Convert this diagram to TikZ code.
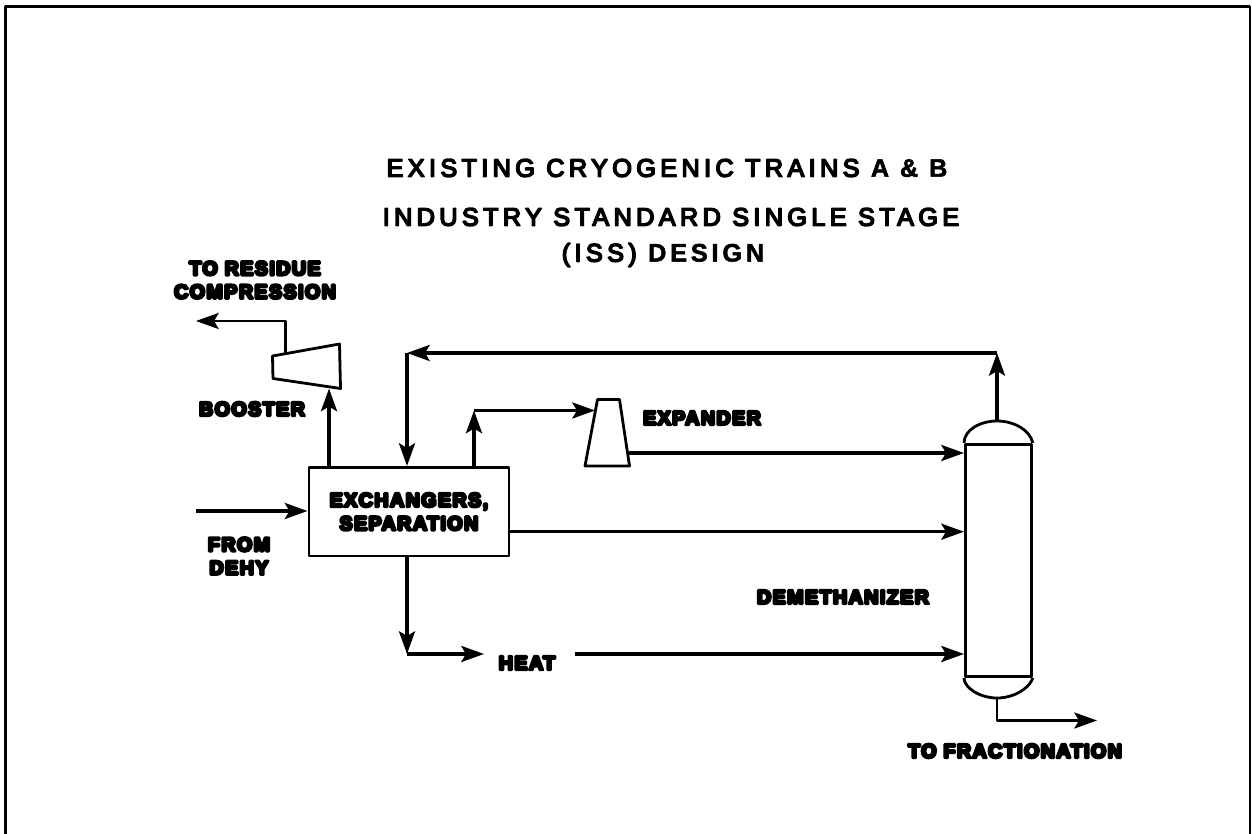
\documentclass[tikz,border=0pt]{standalone}
\usepackage{fontspec}
\setmainfont{Liberation Sans}
\newfontfamily\heavyfont[FakeBold=14,LetterSpace=7]{Liberation Sans Bold}
\newfontfamily\titlefont[FakeBold=6,LetterSpace=17]{Liberation Sans}
\newfontfamily\titleheavy[FakeBold=2,LetterSpace=15]{Liberation Sans Bold}
\usetikzlibrary{arrows.meta,calc,positioning}

\begin{document}
\begin{tikzpicture}[x=0.75pt, y=-0.75pt, line join=round,
  unit/.style={draw, line width=2.1pt, inner sep=0pt, align=center},
  pipe/.style={line width=2.6pt},
  thinpipe/.style={line width=2.2pt},
  flow/.style={-{Stealth[length=17pt, width=12pt, inset=3.5pt]}},
  tag/.style={font=\fontsize{14.8}{17.5}\selectfont\heavyfont, align=center, inner sep=0pt},
  heading/.style={font=\fontsize{19}{20}\selectfont\titlefont, inner sep=0pt}]

\useasboundingbox (0,0) rectangle (1252,834);

% Frame
\draw[line width=2.4pt] (5.5,834) -- (5.5,6.5) -- (1250,6.5);
\draw[line width=1.2pt] (1250,6.5) -- (1250,834);

% Title
\node[heading] (title1) at (667,168) {EXISTING CRYOGENIC TRAINS {\titleheavy A \& B}};
\node[heading] (title2) at (671,217) {INDUSTRY STANDARD SINGLE STAGE};
\node[heading] (title3) at (663,255) {(ISS) {\titleheavy DESIGN}};

% Equipment
\node[unit, minimum width=200pt*0.75, minimum height=88.6pt*0.75, anchor=north west, tag] (exch) at (307.5,466) {EXCHANGERS,\\SEPARATION};
\node[unit, minimum width=66pt*0.75, minimum height=232pt*0.75, anchor=north west] (column) at (964,443) {};
\draw[line width=2.1pt] (column.north west) .. controls (964,430) and (980,421) .. (997,421)
  .. controls (1014,421) and (1030,430) .. (column.north east);
\draw[line width=2.1pt] (column.south west) .. controls (964,688) and (980,698) .. (997,698)
  .. controls (1014,698) and (1030,688) .. (column.south east);
\draw[line width=2.1pt] (272.5,356) -- (339.5,344) -- (340.5,388.5) -- (273,378.5) -- cycle;
\draw[line width=2.1pt] (597.5,399.5) -- (619.5,399.5) -- (629.5,466) -- (585,466) -- cycle;

% Named points
\coordinate (feed) at (196,511);
\coordinate (residue) at (196,321);
\coordinate (boosterin) at (329,388.5);
\coordinate (boosterout) at (285.7,353);
\coordinate (ovhd) at (997,421);
\coordinate (ovhdturn) at (997,353);
\coordinate (recycle) at (407,353);
\coordinate (expturn) at (474,410.5);
\coordinate (expin) at (595,410.5);
\coordinate (expout) at (629,453);
\coordinate (heatturn) at (407,654);
\coordinate (heatin) at (484,654);
\coordinate (heatout) at (575,654);
\coordinate (btm) at (997,698);
\coordinate (btmturn) at (997,720.5);
\coordinate (btmend) at (1097,720.5);

% Streams
\draw[pipe, flow] (feed) -- (exch.west |- feed);
\draw[pipe, flow] (exch.north -| boosterin) -- (boosterin);
\draw[thinpipe, flow] (boosterout) -- (boosterout |- residue) -- (residue);
\draw[pipe, flow] (ovhd) -- (ovhdturn);
\draw[pipe, flow] (ovhdturn) -- (recycle);
\draw[pipe, flow] (recycle) -- (exch.north -| recycle);
\draw[pipe, flow] (exch.north -| expturn) -- (expturn);
\draw[pipe, flow] (expturn) -- (expin);
\draw[pipe, flow] (expout) -- (column.west |- expout);
\draw[pipe, flow] (exch.east |- 0,531.7) -- (column.west |- 0,531.7);
\draw[pipe, flow] (exch.south -| heatturn) -- (heatturn);
\draw[pipe, flow] (heatturn) -- (heatin);
\draw[pipe, flow] (heatout) -- (column.west |- heatout);
\draw[thinpipe, flow] (btm) -- (btmturn) -- (btmend);

% Labels
\node[tag] (lresidue) at (255,280) {TO RESIDUE\\COMPRESSION};
\node[tag] (lbooster) at (252,409) {BOOSTER};
\node[tag] (lexpander) at (702,418) {EXPANDER};
\node[tag] (ldehy) at (239,556) {FROM\\DEHY};
\node[tag] (lheat) at (527,663) {HEAT};
\node[tag] (ldemeth) at (843,597) {DEMETHANIZER};
\node[tag] (lfrac) at (1015,751) {TO FRACTIONATION};

\end{tikzpicture}
\end{document}
